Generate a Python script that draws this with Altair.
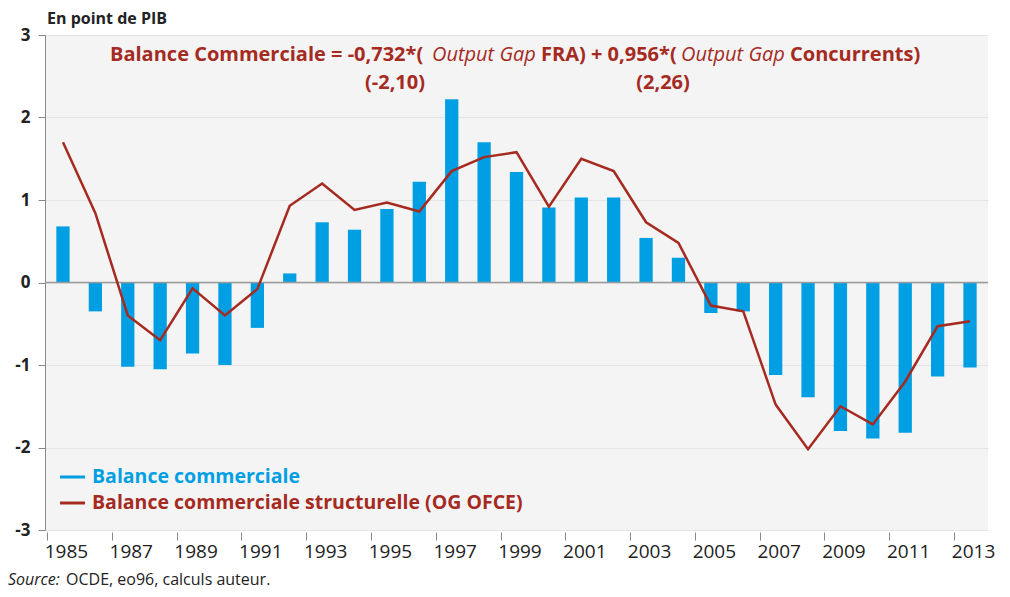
import altair as alt
import pandas as pd

years = [str(y) for y in range(1985, 2014)]
balance = [0.68, -0.35, -1.02, -1.05, -0.86, -1.00, -0.55, 0.11, 0.73, 0.64,
           0.89, 1.22, 2.22, 1.70, 1.34, 0.91, 1.03, 1.03, 0.54, 0.30,
           -0.37, -0.35, -1.12, -1.39, -1.80, -1.89, -1.82, -1.14, -1.03]
structurelle = [1.70, 0.84, -0.40, -0.70, -0.07, -0.40, -0.08, 0.93, 1.20, 0.88,
                0.97, 0.86, 1.35, 1.52, 1.58, 0.92, 1.50, 1.35, 0.73, 0.48,
                -0.28, -0.35, -1.48, -2.02, -1.50, -1.72, -1.20, -0.53, -0.47]
label_years = [str(y) for y in range(1985, 2014, 2)]
y_ticks = [-3, -2, -1, 0, 1, 2, 3]

BLUE = "#009fe3"
RED = "#a52a1f"
DARK = "#222222"
FONT = "Open Sans"

df = pd.DataFrame({"year": years, "bc": balance, "bcs": structurelle})

xscale = alt.Scale(paddingInner=0.59, paddingOuter=0.35)
yscale = alt.Scale(domain=[-3, 3], nice=False)

xaxis = alt.Axis(values=label_years, title=None, domain=False, grid=False, labelAngle=0,
                 labelFontSize=19, labelFont=FONT, labelColor=DARK, tickSize=8,
                 tickOffset=-16, labelOffset=19, tickColor="#888", offset=2, labelPadding=2)
yaxis = alt.Axis(values=y_ticks, title=None, grid=True, gridColor="#e4e4e4",
                 domainColor="#888", tickColor="#888", tickSize=7, labelFontSize=17,
                 labelFont=FONT, labelFontWeight="bold", labelColor=DARK, labelPadding=8,
                 labelExpr="'' + datum.value")

base = alt.Chart(df)
bars = base.mark_bar(color=BLUE).encode(
    x=alt.X("year:O", scale=xscale, axis=xaxis),
    y=alt.Y("bc:Q", scale=yscale, axis=yaxis),
)
zero = alt.Chart(pd.DataFrame({"z": [0]})).mark_rule(color="#9a9a9a", strokeWidth=1.5).encode(
    y=alt.Y("z:Q", scale=yscale)
)
line = base.mark_line(color=RED, strokeWidth=2.5).encode(
    x=alt.X("year:O", scale=xscale),
    y=alt.Y("bcs:Q", scale=yscale),
)


def txt(text, x, y, size, color, weight="bold", style="normal", align="left"):
    return alt.Chart(pd.DataFrame({"t": [text]})).mark_text(
        align=align, baseline="middle", font=FONT, fontSize=size,
        fontWeight=weight, fontStyle=style, color=color
    ).encode(text="t:N", x=alt.value(x), y=alt.value(y))


def seg(x1, x2, y, color):
    return alt.Chart(pd.DataFrame({"a": [0]})).mark_rule(color=color, strokeWidth=3).encode(
        x=alt.value(x1), x2=alt.value(x2), y=alt.value(y)
    )


texts = [
    txt("En point de PIB", 2, -16, 16, DARK),
    txt("Balance Commerciale = -0,732*(", 65, 20, 20, RED),
    txt("Output Gap", 387, 20, 20, RED, weight="normal", style="italic"),
    txt("FRA) + 0,956*(", 496, 20, 20, RED),
    txt("Output Gap", 636, 20, 20, RED, weight="normal", style="italic"),
    txt("Concurrents)", 745, 20, 20, RED),
    txt("(-2,10)", 350, 48, 20, RED, align="center"),
    txt("(2,26)", 618, 48, 20, RED, align="center"),
    txt("Balance commerciale", 47, 442, 19.5, BLUE),
    txt("Balance commerciale structurelle (OG OFCE)", 47, 468, 19.5, RED),
    txt("Source:", -37, 545, 16, DARK, weight="normal", style="italic"),
    txt("OCDE, eo96, calculs auteur.", 21, 545, 16, DARK, weight="normal"),
]
legend_lines = [seg(15, 40, 442, BLUE), seg(15, 40, 468, RED)]

chart = alt.layer(bars, zero, line, *legend_lines, *texts).properties(
    width=943, height=495,
    autosize=alt.AutoSizeParams(type="none"),
    padding={"left": 37, "top": 27, "right": 14, "bottom": 59},
    background="white",
).configure_view(fill="#f4f4f4", strokeWidth=0)

chart.save("out.html", embed_options={"renderer": "svg", "actions": False})
